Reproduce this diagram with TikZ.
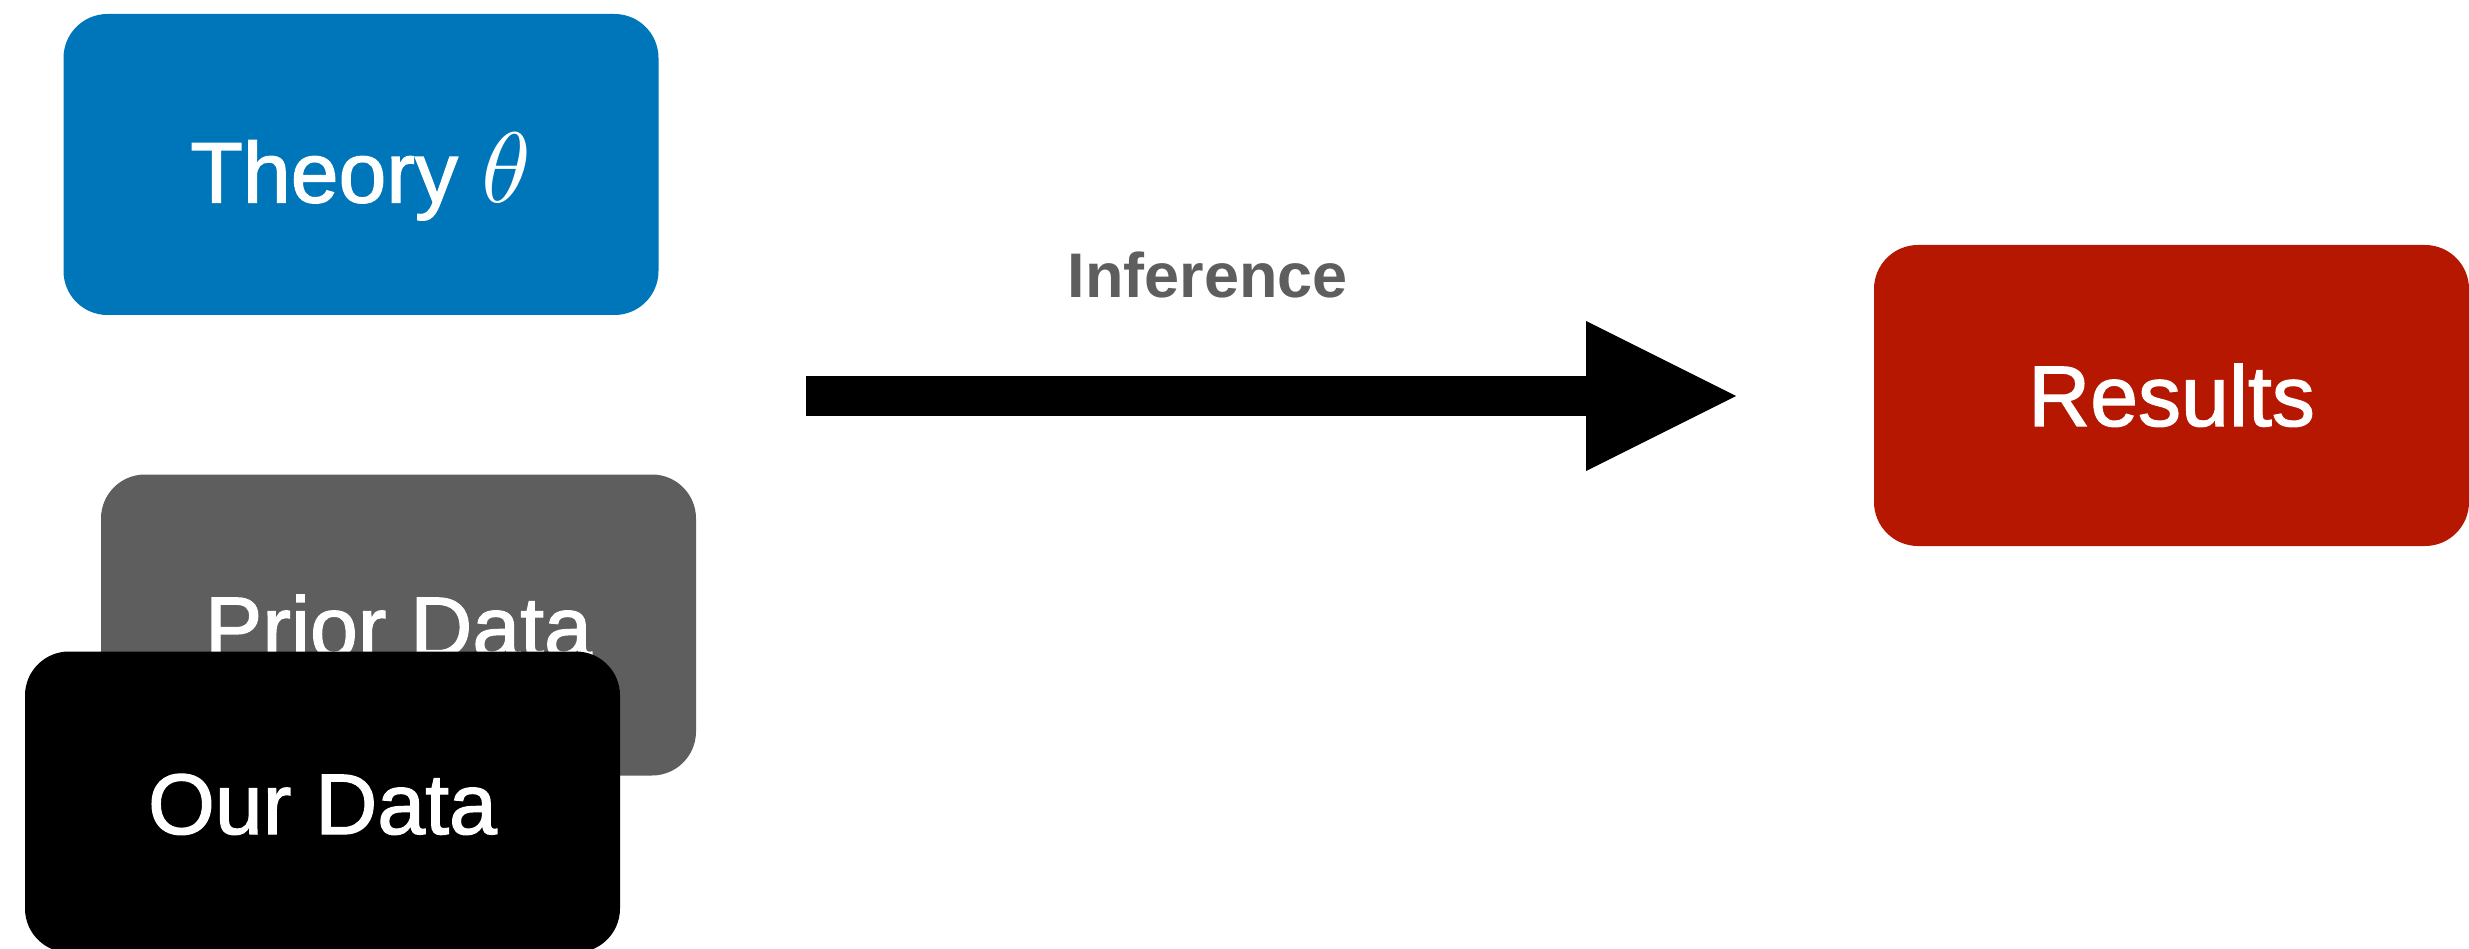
\documentclass[tikz,border=0pt]{standalone}
\usepackage{fontspec}
\usepackage{graphicx}
\setmainfont{Liberation Sans}
\newfontfamily\cardfont[FakeBold=1.5]{Liberation Sans}
\usetikzlibrary{arrows.meta}
\definecolor{theoryblue}{RGB}{0,118,186}
\definecolor{priorgrey}{RGB}{94,94,94}
\definecolor{resultred}{RGB}{181,23,0}
\tikzset{
  card/.style={rectangle, rounded corners=44pt, minimum width=595pt, minimum height=301pt,
    inner sep=0pt, text=white, text height=64pt, text depth=0pt,
    font=\cardfont\fontsize{86}{100}\selectfont},
  bigarrow/.style={line width=40pt, -{Triangle[length=150pt,width=150pt,line width=0pt]}},
  arrowlabel/.style={text=priorgrey, font=\bfseries\fontsize{63}{70}\selectfont, inner sep=0pt}
}
\begin{document}
\begin{tikzpicture}[x=1pt, y=-1pt]
\useasboundingbox[fill=white] (0,0) rectangle (2469,949);
\node[card, fill=theoryblue, text height=76pt] (theory) at (361,164.5)
  {Theory~{\fontsize{10}{12}\selectfont\scalebox{10}{$\theta$}}};
\node[card, fill=priorgrey] (prior) at (398.5,625) {Prior Data};
\node[card, fill=black] (our) at (322.5,802) {Our Data};
\node[card, fill=resultred, text height=61pt] (results) at (2171.5,395.5) {Results};
\coordinate (a0) at (806,396);
\coordinate (a1) at (1736,396);
\draw[bigarrow] (a0) -- node[arrowlabel, pos=0.432, anchor=base, yshift=98pt] {Inference} (a1);
\end{tikzpicture}
\end{document}
